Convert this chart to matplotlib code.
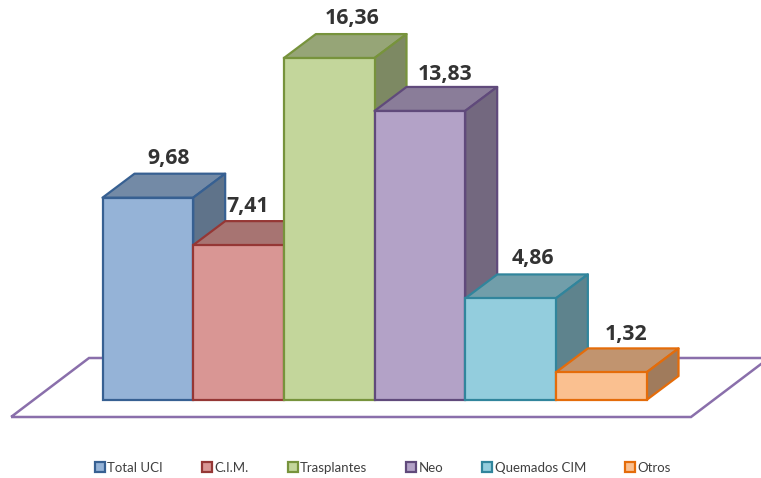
import matplotlib
matplotlib.use("Agg")
import matplotlib.pyplot as plt
from matplotlib.colors import to_rgb
from matplotlib.patches import Polygon

categories = ["Total UCI", "C.I.M.", "Trasplantes", "Neo", "Quemados CIM", "Otros"]
values = [9.68, 7.41, 16.36, 13.83, 4.86, 1.32]
labels = ["9,68", "7,41", "16,36", "13,83", "4,86", "1,32"]
fronts = ["#95B3D7", "#D99694", "#C3D69B", "#B3A2C7", "#93CDDD", "#FAC090"]
edges = ["#376092", "#953735", "#77933C", "#604A7B", "#31859C", "#E46C0A"]
label_shift = [0.23, 0.10, 0.25, 0.28, 0.25, 0.27]
label_rise = [39.5, 38.5, 40, 36.5, 40, 37.5]

W, H = 761, 478
PX_X = 90.67          # pixels per category
PX_Y = 20.9           # pixels per unit
X0, Y0 = 102.5, 400   # pixel position of the first bar's left edge and the baseline
DX, DY = 32 / PX_X, 24 / PX_Y

fig = plt.figure(figsize=(W / 100, H / 100), dpi=100)
ax = fig.add_axes([0, 0, 1, 1])
ax.set_xlim(-0.5 - X0 / PX_X, -0.5 + (W - X0) / PX_X)
ax.set_ylim(-(H - Y0) / PX_Y, Y0 / PX_Y)
ax.axis("off")

# floor
fy0, fy1 = -17 / PX_Y, 42 / PX_Y
fl = -0.5 - 91.5 / PX_X
fr = -0.5 + 588.5 / PX_X
fdx = 78 / PX_X
ax.add_patch(Polygon([(fl, fy0), (fr, fy0), (fr + fdx, fy1), (fl + fdx, fy1)],
                     closed=True, fill=False, ec="#8A6FAB", lw=1.8, zorder=1))


def shade(c, k):
    return tuple(v * k for v in to_rgb(c))


handles = []
for i, (cat, v, f, e) in enumerate(zip(categories, values, fronts, edges)):
    z = 2 + i
    l, r = i - 0.5, i + 0.5
    ax.add_patch(Polygon([(l, v), (r, v), (r + DX, v + DY), (l + DX, v + DY)],
                         closed=True, fc=shade(f, 0.77), ec=e, lw=1.6, zorder=z, joinstyle="round"))
    ax.add_patch(Polygon([(r, 0), (r + DX, DY), (r + DX, v + DY), (r, v)],
                         closed=True, fc=shade(f, 0.64), ec=e, lw=1.6, zorder=z, joinstyle="round"))
    b = ax.bar(i, v, width=1.0, color=f, edgecolor=e, linewidth=1.6, zorder=z + 0.5, label=cat)
    handles.append(b[0])

for i, (v, t, s, rise) in enumerate(zip(values, labels, label_shift, label_rise)):
    ax.text(i + s, v + rise / PX_Y, t, ha="center", va="center", fontsize=15.3,
            fontweight="bold", color="#333333", family="Open Sans", zorder=20)

leg = ax.legend(handles, categories, loc="center", bbox_to_anchor=(383 / W, 1 - 467.5 / H),
                ncol=6, frameon=False, handlelength=0.75, handleheight=0.8,
                handletextpad=0.2, columnspacing=2.95, borderpad=0, labelspacing=0,
                prop={"family": "Lato", "size": 9.5})
for t in leg.get_texts():
    t.set_color("#404040")

fig.savefig("out.png", dpi=100)
